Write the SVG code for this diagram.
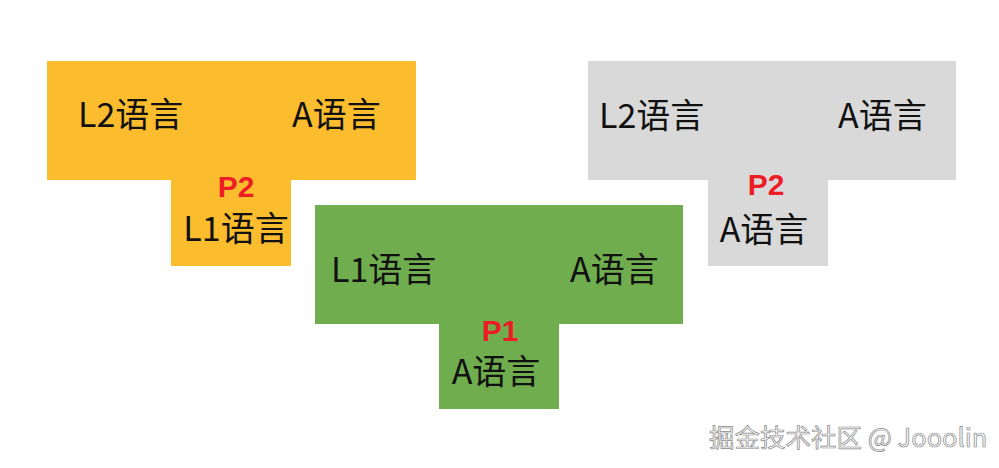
<svg xmlns="http://www.w3.org/2000/svg" width="999" height="468" viewBox="0 0 999 468">
<style>
.t{font-family:"Noto Sans CJK SC","Liberation Sans",sans-serif;font-size:34px;fill:#111}
.p{font-family:"Liberation Sans","Noto Sans CJK SC",sans-serif;font-size:30px;font-weight:bold;fill:#ee1c25;text-anchor:middle}
.c{text-anchor:middle}
.wm{font-family:"Noto Sans CJK SC","Liberation Sans",sans-serif;font-size:25.5px;fill:#f4f4f4;stroke:#8a8a8a;stroke-width:0.7}
</style>
<rect width="999" height="468" fill="#fff"/>
<g id="t-orange">
<path d="M47 61H416V180H291V266H171V180H47Z" fill="#fbbd2e"/>
<text class="t" x="78" y="127">L2语言</text>
<text class="t" x="292" y="127">A语言</text>
<text class="p" x="236" y="197">P2</text>
<text class="t c" x="236" y="241">L1语言</text>
</g>
<g id="t-gray">
<path d="M588 61H956V180H828V266H708V180H588Z" fill="#d9d9d9"/>
<text class="t" x="599" y="128">L2语言</text>
<text class="t" x="838" y="128">A语言</text>
<text class="p" x="766" y="195">P2</text>
<text class="t c" x="764" y="242">A语言</text>
</g>
<g id="t-green">
<path d="M315 205H683V324H559V409H439V324H315Z" fill="#70ad4e"/>
<text class="t" x="331" y="282">L1语言</text>
<text class="t" x="570" y="282">A语言</text>
<text class="p" x="500" y="341">P1</text>
<text class="t c" x="496" y="384">A语言</text>
</g>
<g id="connectors"></g>
<text class="wm" x="709" y="447">掘金技术社区 @ Jooolin</text>
</svg>
